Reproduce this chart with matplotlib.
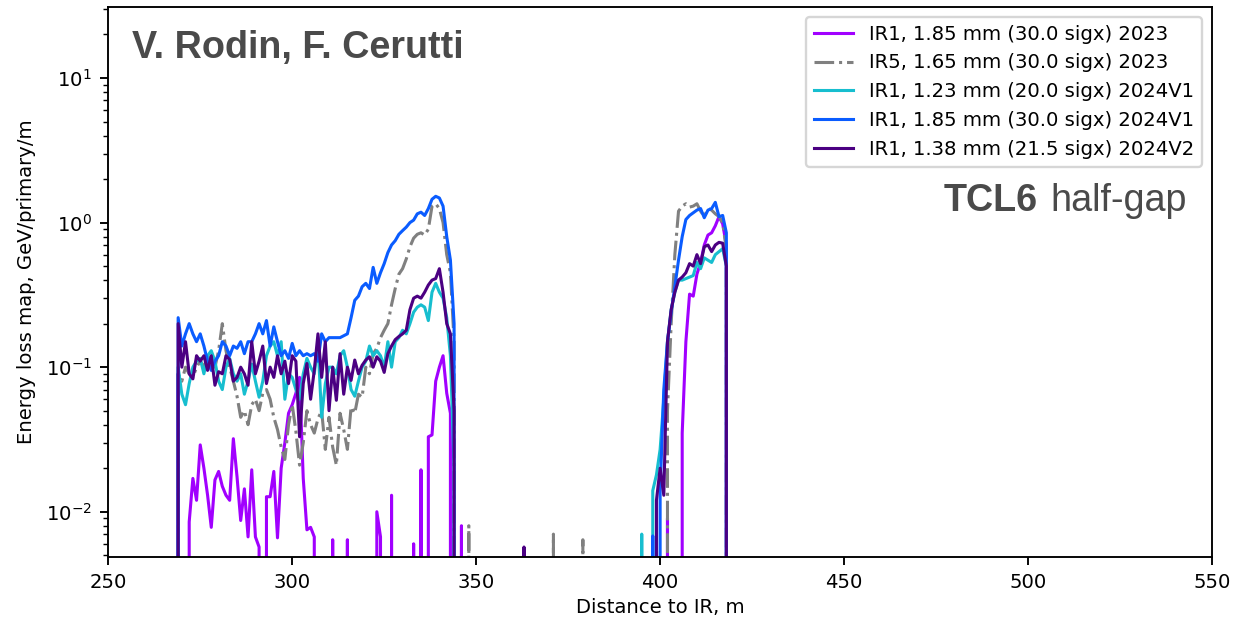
import numpy as np
import matplotlib
matplotlib.use("Agg")
import matplotlib.pyplot as plt

# ---------- DATA ----------
# distance to IR in m, 1 m bins from 268 to 420
distance = np.arange(268, 421)

labels = [
    "IR1, 1.85 mm (30.0 sigx) 2023",
    "IR5, 1.65 mm (30.0 sigx) 2023",
    "IR1, 1.23 mm (20.0 sigx) 2024V1",
    "IR1, 1.85 mm (30.0 sigx) 2024V1",
    "IR1, 1.38 mm (21.5 sigx) 2024V2",
]

# GeV/primary/m, one value per bin (0 = no loss)
ir1_185_2023 = [
    0, 0.09, 0, 0, 0.0085, 0.017, 0.012, 0.029, 0.02, 0.013,             # 268-277
    0.0078, 0.0166, 0.019, 0.015, 0.013, 0.012, 0.032, 0.0175, 0.0087, 0.0144,
    0.0067, 0.0195, 0.0067, 0.0057, 0, 0.0127, 0.0127, 0.019, 0.0066, 0.02,
    0.03, 0.048, 0.055, 0.066, 0.085, 0.017, 0.0075, 0.0078, 0.0067, 0,   # 298-307
    0, 0, 0, 0.0064, 0, 0, 0, 0.0064, 0, 0,
    0, 0, 0, 0, 0, 0.01, 0.0067, 0, 0, 0.013,
    0, 0, 0, 0, 0, 0.006, 0, 0.0195, 0, 0.033,                             # 328-337
    0.034, 0.08, 0.1, 0.12, 0.066, 0.048, 0, 0, 0.008, 0,
    0, 0, 0, 0, 0, 0, 0, 0, 0, 0,
    0, 0, 0, 0, 0, 0, 0, 0, 0, 0,
    0, 0, 0, 0, 0, 0, 0, 0, 0, 0,
    0, 0, 0, 0, 0, 0, 0, 0, 0, 0,
    0, 0, 0, 0, 0, 0, 0, 0, 0, 0,                                          # 388-397
    0, 0, 0, 0, 0.009, 0, 0, 0, 0.035, 0.15,
    0.32, 0.31, 0.44, 0.53, 0.7, 0.82, 0.85, 0.95, 1.1, 0.98,
    0.7, 0, 0,
]
ir5_165_2023 = [
    0, 0.09, 0.08, 0.1, 0.09, 0.085, 0.1, 0.11, 0.1, 0.12,
    0.11, 0.1, 0.13, 0.2, 0.13, 0.1, 0.08, 0.063, 0.045, 0.05,
    0.04, 0.055, 0.06, 0.05, 0.066, 0.07, 0.06, 0.045, 0.037, 0.028,
    0.023, 0.04, 0.055, 0.036, 0.021, 0.03, 0.05, 0.04, 0.035, 0.044,
    0.05, 0.027, 0.045, 0.028, 0.021, 0.048, 0.037, 0.027, 0.053, 0.048,
    0.065, 0.062, 0.1, 0.09, 0.124, 0.135, 0.16, 0.18, 0.2, 0.27,
    0.35, 0.44, 0.48, 0.56, 0.68, 0.78, 0.83, 0.85, 0.82, 0.9,
    1.3, 1.35, 1.25, 1.0, 0.6, 0.45, 0.15, 0, 0, 0,
    0.008, 0, 0, 0, 0, 0, 0, 0, 0, 0,
    0, 0, 0, 0, 0, 0, 0, 0, 0, 0,
    0, 0, 0, 0.007, 0, 0, 0, 0, 0, 0,
    0, 0.0064, 0, 0, 0, 0, 0, 0, 0, 0,
    0, 0, 0, 0, 0, 0, 0, 0, 0, 0,
    0, 0, 0, 0, 0.05, 0.2, 0.6, 1.2, 1.3, 1.35,
    1.28, 1.3, 1.35, 1.2, 1.1, 1.25, 1.22, 1.15, 1.1, 1.0,
    0.65, 0, 0,
]
ir1_123_2024v1 = [
    0, 0.1, 0.065, 0.055, 0.077, 0.1, 0.11, 0.115, 0.09, 0.12,
    0.13, 0.11, 0.08, 0.07, 0.1, 0.115, 0.09, 0.08, 0.09, 0.065,
    0.08, 0.105, 0.08, 0.062, 0.08, 0.12, 0.14, 0.15, 0.12, 0.15,
    0.06, 0.09, 0.085, 0.07, 0.06, 0.09, 0.115, 0.1, 0.09, 0.145,
    0.045, 0.077, 0.1, 0.1, 0.09, 0.12, 0.13, 0.1, 0.07, 0.063,
    0.08, 0.1, 0.11, 0.14, 0.12, 0.13, 0.12, 0.1, 0.15, 0.1,
    0.15, 0.16, 0.18, 0.17, 0.2, 0.24, 0.26, 0.27, 0.26, 0.21,
    0.33, 0.38, 0.33, 0.3, 0.22, 0.12, 0.02, 0, 0, 0,
    0, 0, 0, 0, 0, 0, 0, 0, 0, 0,
    0, 0, 0, 0, 0, 0, 0, 0, 0, 0,
    0, 0, 0, 0, 0, 0, 0, 0, 0, 0,
    0, 0, 0, 0, 0, 0, 0, 0, 0, 0,
    0, 0, 0, 0, 0, 0, 0, 0.007, 0, 0,
    0.014, 0.018, 0.027, 0.06, 0.15, 0.25, 0.33, 0.4, 0.4, 0.41,
    0.42, 0.43, 0.53, 0.48, 0.57, 0.55, 0.53, 0.6, 0.63, 0.66,
    0.5, 0, 0,
]
ir1_185_2024v1 = [
    0, 0.22, 0.14, 0.17, 0.2, 0.17, 0.15, 0.17, 0.14, 0.11,
    0.095, 0.11, 0.12, 0.15, 0.14, 0.12, 0.14, 0.135, 0.15, 0.124,
    0.15, 0.15, 0.17, 0.2, 0.17, 0.21, 0.14, 0.19, 0.15, 0.12,
    0.13, 0.115, 0.146, 0.12, 0.13, 0.12, 0.124, 0.12, 0.124, 0.11,
    0.17, 0.15, 0.16, 0.16, 0.16, 0.16, 0.165, 0.17, 0.22, 0.29,
    0.31, 0.36, 0.38, 0.35, 0.49, 0.38, 0.45, 0.52, 0.62, 0.7,
    0.75, 0.83, 0.88, 0.93, 1.0, 1.04, 1.15, 1.18, 1.12, 1.25,
    1.45, 1.52, 1.48, 1.3, 0.8, 0.55, 0.2, 0, 0, 0,
    0, 0, 0, 0, 0, 0, 0, 0, 0, 0,
    0, 0, 0, 0, 0, 0, 0, 0, 0, 0,
    0, 0, 0, 0, 0, 0, 0, 0, 0, 0,
    0, 0, 0, 0, 0, 0, 0, 0, 0, 0,
    0, 0, 0, 0, 0, 0, 0, 0, 0, 0,
    0.0068, 0, 0.014, 0.07, 0.15, 0.24, 0.36, 0.55, 0.8, 1.05,
    1.12, 1.17, 1.22, 1.25, 1.08, 1.22, 1.25, 1.38, 1.1, 1.12,
    0.85, 0, 0,
]
ir1_138_2024v2 = [
    0, 0.2, 0.1, 0.15, 0.09, 0.083, 0.12, 0.11, 0.12, 0.095,
    0.12, 0.075, 0.093, 0.09, 0.12, 0.113, 0.08, 0.085, 0.1, 0.09,
    0.075, 0.15, 0.09, 0.11, 0.14, 0.077, 0.1, 0.085, 0.12, 0.09,
    0.11, 0.077, 0.12, 0.11, 0.033, 0.077, 0.106, 0.06, 0.095, 0.17,
    0.085, 0.15, 0.05, 0.1, 0.059, 0.124, 0.065, 0.1, 0.081, 0.112,
    0.09, 0.103, 0.112, 0.118, 0.1, 0.118, 0.11, 0.092, 0.124, 0.14,
    0.155, 0.163, 0.17, 0.18, 0.25, 0.3, 0.31, 0.3, 0.33, 0.37,
    0.4, 0.41, 0.48, 0.33, 0.2, 0.17, 0.05, 0, 0, 0,
    0, 0, 0, 0, 0, 0, 0, 0, 0, 0,
    0, 0, 0, 0, 0, 0.0057, 0, 0, 0, 0,
    0, 0, 0, 0, 0, 0, 0, 0, 0, 0,
    0, 0, 0, 0, 0, 0, 0, 0, 0, 0,
    0, 0, 0, 0, 0, 0, 0, 0, 0, 0,
    0, 0.012, 0.02, 0.013, 0.15, 0.25, 0.33, 0.4, 0.42, 0.45,
    0.52, 0.5, 0.6, 0.52, 0.68, 0.7, 0.63, 0.7, 0.73, 0.72,
    0.5, 0, 0,
]

series = [ir1_185_2023, ir5_165_2023, ir1_123_2024v1, ir1_185_2024v1, ir1_138_2024v2]
colors = ["#a100ff", "gray", "#17becf", "#0a5cff", "#4b0082"]
styles = ["-", "-.", "-", "-", "-"]
# ---------------------------

DPI = 170
plt.rcParams["font.size"] = 8.3
fig = plt.figure(figsize=(1250 / DPI, 617 / DPI), dpi=DPI)
ax = fig.add_axes([0.0866, 0.098, 0.9696 - 0.0866, 0.9887 - 0.098])

for vals, lab, c, ls in zip(series, labels, colors, styles):
    ax.plot(distance, vals, color=c, ls=ls, lw=1.3, label=lab)

ax.set_yscale("log")
ax.set_xlim(250, 550)
ax.set_ylim(0.0049, 31)
ax.set_xlabel("Distance to IR, m", labelpad=2.5)
ax.set_ylabel("Energy loss map, GeV/primary/m")
ax.legend(loc="upper right")

txt_color = "#4a4a4a"
ax.text(0.0217, 0.907, "V. Rodin, F. Cerutti", transform=ax.transAxes,
        ha="left", va="baseline", fontsize=16, fontweight="bold",
        family="Liberation Sans", color=txt_color)
t_gap = ax.text(0.977, 0.628, "half-gap", transform=ax.transAxes,
                ha="right", va="baseline", fontsize=16,
                family="Liberation Sans", color=txt_color)
ax.annotate("TCL6", xy=(0, 0.628), xycoords=(t_gap, ax.transAxes),
            xytext=(-12, 0), textcoords="offset pixels",
            ha="right", va="baseline", fontsize=16, fontweight="bold",
            family="Liberation Sans", color=txt_color)

fig.savefig("out.png", dpi=DPI)
